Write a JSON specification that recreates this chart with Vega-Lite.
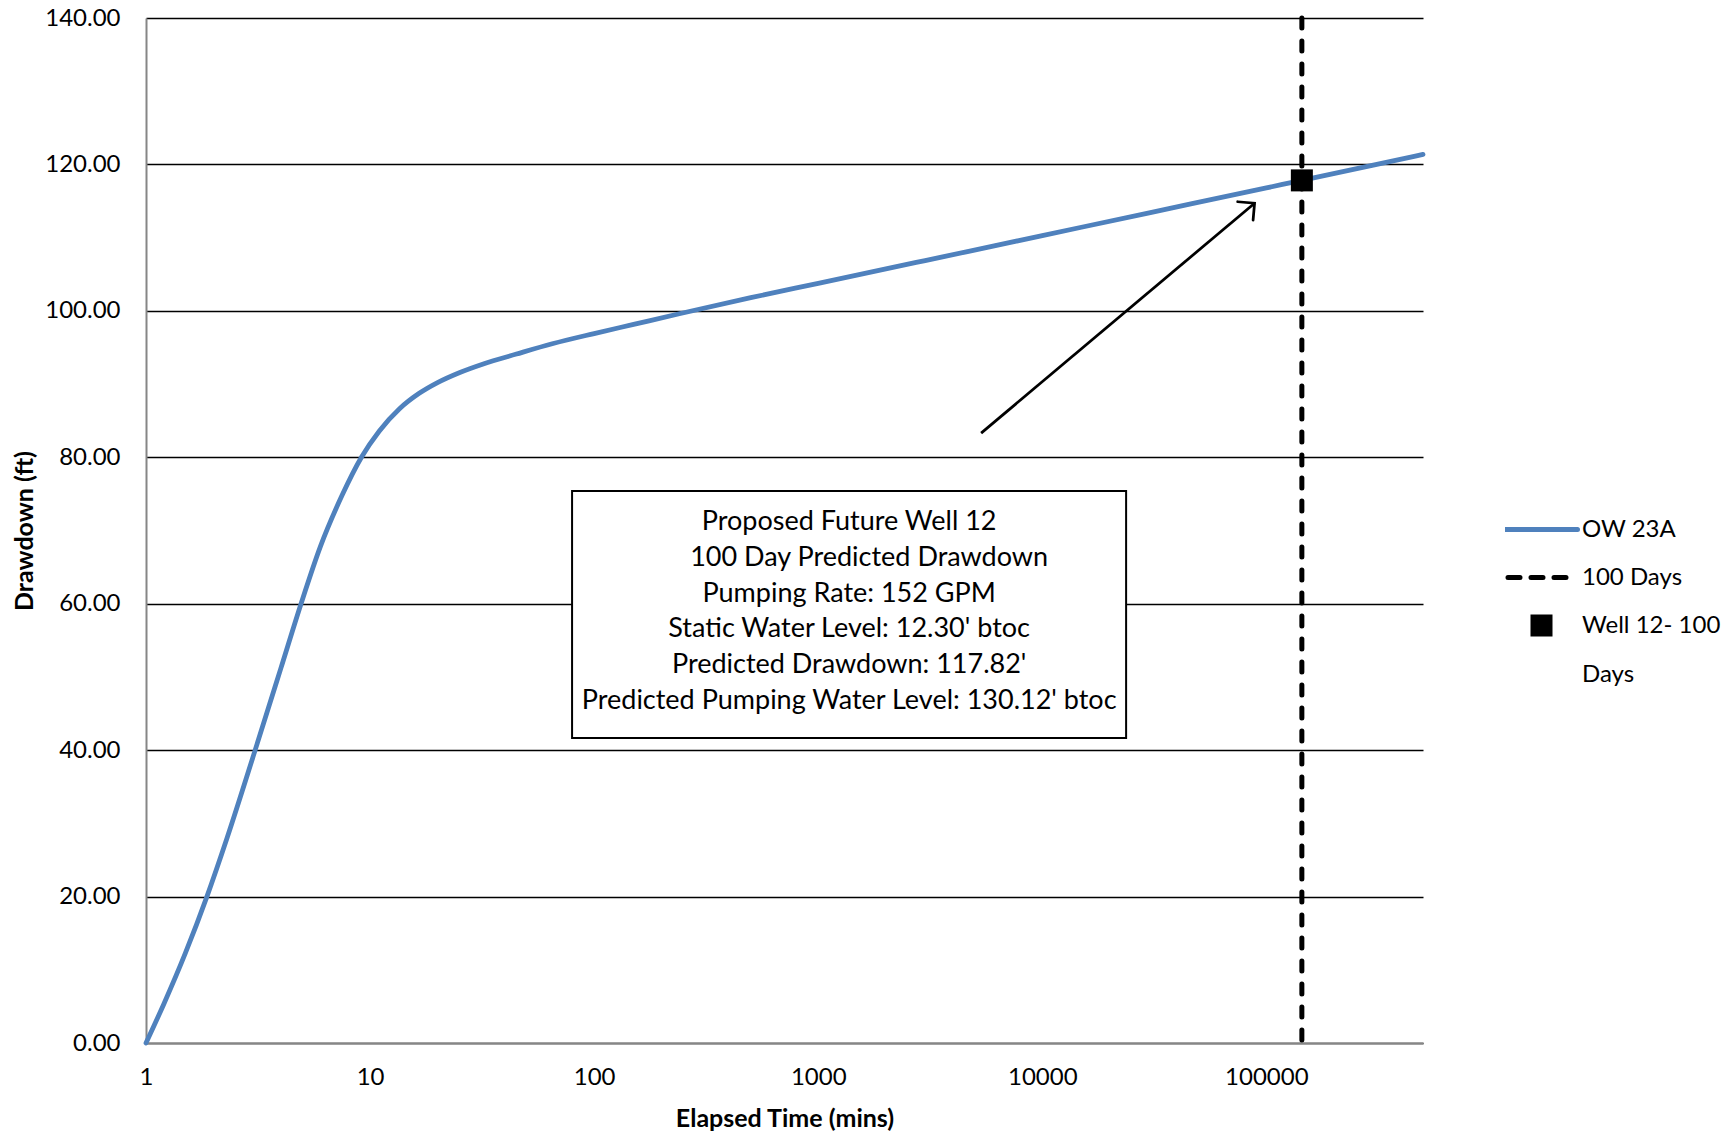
{
  "$schema": "https://vega.github.io/schema/vega-lite/v6.json",
  "autosize": "none",
  "width": 1277,
  "height": 1025,
  "padding": {"left": 146, "top": 18, "right": 311, "bottom": 91},
  "background": "white",
  "config": {"view": {"stroke": null}, "font": "Lato"},
  "datasets": {
    "curve": [
      {"t": 1, "d": 0, "series": "OW 23A"},
      {"t": 1.2, "d": 5.3, "series": "OW 23A"},
      {"t": 1.5, "d": 12.3, "series": "OW 23A"},
      {"t": 1.87, "d": 20, "series": "OW 23A"},
      {"t": 2.3, "d": 28, "series": "OW 23A"},
      {"t": 3.07, "d": 40, "series": "OW 23A"},
      {"t": 4, "d": 51.2, "series": "OW 23A"},
      {"t": 4.92, "d": 60, "series": "OW 23A"},
      {"t": 6, "d": 67.8, "series": "OW 23A"},
      {"t": 7.5, "d": 74.8, "series": "OW 23A"},
      {"t": 9.15, "d": 80, "series": "OW 23A"},
      {"t": 11, "d": 83.6, "series": "OW 23A"},
      {"t": 13.5, "d": 86.6, "series": "OW 23A"},
      {"t": 16.5, "d": 88.7, "series": "OW 23A"},
      {"t": 20, "d": 90.2, "series": "OW 23A"},
      {"t": 25, "d": 91.55, "series": "OW 23A"},
      {"t": 32, "d": 92.75, "series": "OW 23A"},
      {"t": 45, "d": 94.1, "series": "OW 23A"},
      {"t": 65, "d": 95.5, "series": "OW 23A"},
      {"t": 100, "d": 96.9, "series": "OW 23A"},
      {"t": 150, "d": 98.15, "series": "OW 23A"},
      {"t": 240, "d": 99.6, "series": "OW 23A"},
      {"t": 500, "d": 101.8, "series": "OW 23A"},
      {"t": 1000, "d": 103.76, "series": "OW 23A"},
      {"t": 3000, "d": 106.87, "series": "OW 23A"},
      {"t": 10000, "d": 110.28, "series": "OW 23A"},
      {"t": 30000, "d": 113.39, "series": "OW 23A"},
      {"t": 100000, "d": 116.8, "series": "OW 23A"},
      {"t": 144000, "d": 117.82, "series": "OW 23A"},
      {"t": 300000, "d": 119.9, "series": "OW 23A"},
      {"t": 500000, "d": 121.36, "series": "OW 23A"}
    ],
    "days": [{"t": 144000, "series": "100 Days"}],
    "well": [{"t": 144000, "d": 117.82, "series": "Well 12- 100 Days"}],
    "arrow": [{"t": 5333, "d": 83.3, "t2": 88570, "d2": 114.7}],
    "box": [{"t": 79.7, "t2": 23660, "d": 41.65, "d2": 75.4}],
    "note": [{"t": 1374, "d": 71.17, "label": "Proposed Future Well 12\n\u2800\u2800100 Day Predicted Drawdown\nPumping Rate: 152 GPM\nStatic Water Level: 12.30' btoc\nPredicted Drawdown: 117.82'\nPredicted Pumping Water Level: 130.12' btoc"}]
  },
  "layer": [
    {
      "data": {"name": "curve"},
      "mark": {"type": "line", "strokeWidth": 4.8, "interpolate": "monotone", "strokeCap": "round"},
      "encoding": {
        "x": {
          "field": "t", "type": "quantitative",
          "scale": {"type": "log", "domain": [1, 500000], "nice": false},
          "axis": {
            "title": "Elapsed Time (mins)",
            "values": [1, 10, 100, 1000, 10000, 100000],
            "format": "d",
            "grid": false, "ticks": false,
            "domainColor": "#868686", "domainWidth": 2,
            "labelFont": "Lato", "labelFontSize": 24, "labelColor": "black",
            "labelPadding": 22, "labelFlush": false, "labelOverlap": false,
            "titleFont": "Lato", "titleFontSize": 25, "titleFontWeight": "bold", "titleColor": "black",
            "titlePadding": 17
          }
        },
        "y": {
          "field": "d", "type": "quantitative",
          "scale": {"domain": [0, 140], "nice": false, "zero": false},
          "axis": {
            "title": "Drawdown (ft)",
            "values": [0, 20, 40, 60, 80, 100, 120, 140],
            "format": ".2f",
            "grid": true, "gridColor": "black", "gridWidth": 1.3,
            "ticks": false,
            "domainColor": "#868686", "domainWidth": 2,
            "labelFont": "Lato", "labelFontSize": 24, "labelColor": "black",
            "labelPadding": 26, "labelFlush": false, "labelOverlap": false,
            "titleFont": "Lato", "titleFontSize": 25, "titleFontWeight": "bold", "titleColor": "black",
            "titlePadding": 7
          }
        },
        "color": {
          "field": "series", "type": "nominal",
          "scale": {"domain": ["OW 23A", "100 Days", "Well 12- 100 Days"], "range": ["#4F81BD", "black", "black"]},
          "legend": {
            "title": null,
            "orient": "none",
            "legendX": 1359,
            "legendY": 496.5,
            "direction": "vertical",
            "padding": 0,
            "clipHeight": 30,
            "rowPadding": 18,
            "symbolType": "stroke",
            "symbolSize": 5329,
            "symbolStrokeWidth": 5,
            "symbolOffset": 0,
            "labelOffset": 2.5,
            "labelFont": "Lato", "labelFontSize": 24, "labelColor": "black",
            "labelBaseline": "alphabetic",
            "labelLimit": 400,
            "labelExpr": "datum.label == 'Well 12- 100 Days' ? ['Well 12- 100', 'Days'] : datum.label",
            "encode": {
              "symbols": {
                "update": {
                  "x": {"signal": "datum.value === '100 Days' ? 35 : 36.5"},
                  "shape": {"signal": "datum.value === 'Well 12- 100 Days' ? 'square' : 'stroke'"},
                  "size": {"signal": "datum.value === 'Well 12- 100 Days' ? 484 : datum.value === '100 Days' ? 4096 : 5184"},
                  "fill": {"signal": "datum.value === 'Well 12- 100 Days' ? 'black' : 'transparent'"},
                  "stroke": {"signal": "datum.value === 'OW 23A' ? '#4F81BD' : 'black'"},
                  "strokeWidth": {"signal": "datum.value === 'Well 12- 100 Days' ? 0 : 5"},
                  "strokeDash": {"signal": "datum.value === '100 Days' ? [12, 11] : [1, 0]"},
                  "strokeCap": {"value": "round"},
                  "opacity": {"value": 1}
                }
              },
              "labels": {
                "update": {
                  "x": {"value": 77},
                  "dy": {"value": 7.5},
                  "lineHeight": {"value": 49}
                }
              }
            }
          }
        }
      }
    },
    {
      "data": {"name": "box"},
      "mark": {"type": "rect", "fill": "white", "stroke": "black", "strokeWidth": 2},
      "encoding": {
        "x": {"field": "t", "type": "quantitative"},
        "x2": {"field": "t2"},
        "y": {"field": "d", "type": "quantitative"},
        "y2": {"field": "d2"}
      }
    },
    {
      "data": {"name": "note"},
      "mark": {"type": "text", "font": "Lato", "fontSize": 27, "color": "black", "align": "center", "baseline": "middle", "lineBreak": "\n", "lineHeight": 35.8},
      "encoding": {
        "x": {"field": "t", "type": "quantitative"},
        "y": {"field": "d", "type": "quantitative"},
        "text": {"field": "label"}
      }
    },
    {
      "data": {"name": "arrow"},
      "mark": {"type": "rule", "color": "black", "strokeWidth": 2.75},
      "encoding": {
        "x": {"field": "t", "type": "quantitative"},
        "y": {"field": "d", "type": "quantitative"},
        "x2": {"field": "t2"},
        "y2": {"field": "d2"}
      }
    },
    {
      "data": {"name": "arrow"},
      "mark": {"type": "point", "shape": "M-1,1L0,0L1,1", "filled": false, "stroke": "black", "strokeWidth": 2.75, "size": 576, "angle": 50, "opacity": 1, "strokeCap": "round", "strokeJoin": "miter"},
      "encoding": {
        "x": {"field": "t2", "type": "quantitative"},
        "y": {"field": "d2", "type": "quantitative"}
      }
    },
    {
      "data": {"name": "days"},
      "mark": {"type": "rule", "strokeWidth": 5, "strokeDash": [10, 13], "strokeCap": "round"},
      "encoding": {
        "x": {"field": "t", "type": "quantitative"},
        "color": {"field": "series", "type": "nominal"}
      }
    },
    {
      "data": {"name": "well"},
      "mark": {"type": "point", "shape": "square", "filled": true, "size": 484, "opacity": 1},
      "encoding": {
        "x": {"field": "t", "type": "quantitative"},
        "y": {"field": "d", "type": "quantitative"},
        "color": {"field": "series", "type": "nominal"}
      }
    }
  ]
}
